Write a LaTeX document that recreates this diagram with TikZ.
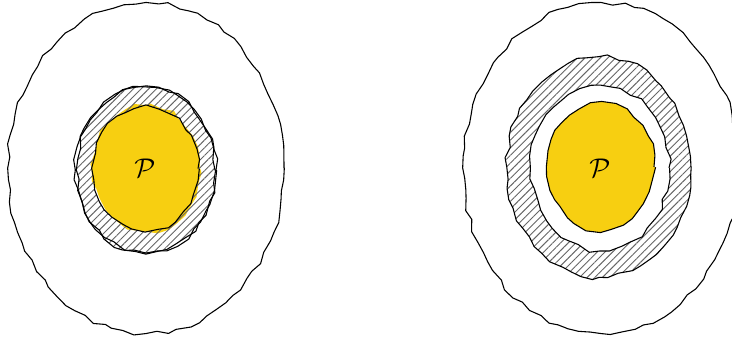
\documentclass[tikz,border=0pt]{standalone}
\usepackage{amsmath,amssymb}
\usepackage{xcolor}
\usepackage{tikz}
\usetikzlibrary{decorations.pathmorphing,patterns.meta}
\definecolor{pyellow}{RGB}{247,207,17}

\begin{document}
\begin{tikzpicture}[x=0.013cm,y=0.013cm,
		jag/.style={decorate,decoration={random steps,segment length=4pt,amplitude=0.8pt},line join=round,thin},
		hatch/.style={jag,draw,even odd rule,pattern={Lines[angle=45,distance=2pt,line width=0.35pt]},pattern color=black!60}]
		\useasboundingbox (0,0) rectangle (732,337);
		\pgfmathsetseed{11}

		% left: hatched ring tight around P
		\draw[jag] (146,169) ellipse (138 and 165);
		\fill[jag,pyellow] (146,168.5) ellipse (54 and 63);
		\path[hatch] (146,167) ellipse (69 and 83) (145.5,168.5) ellipse (52.5 and 61.5);
		\draw[jag] (146,167) ellipse (70 and 82);
		\node (pl) at (145,169) {$\mathcal{P}$};

		% right: gap between P and the ring
		\draw[jag] (601,169) ellipse (138 and 165);
		\path[hatch] (599,170) ellipse (92 and 110) (600,169) ellipse (69 and 82);
		\draw[jag,fill=pyellow] (601,170) ellipse (53 and 63);
		\node (pr) at (600,169) {$\mathcal{P}$};
	\end{tikzpicture}
\end{document}
